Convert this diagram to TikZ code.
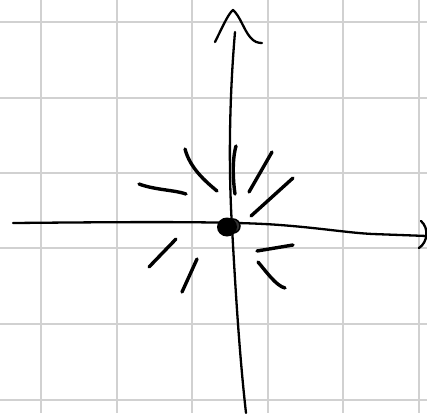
\documentclass[tikz,border=0pt]{standalone}
\begin{document}
\begin{tikzpicture}[x=1pt,y=-1pt,
  gridline/.style={draw=black!18,line width=1.8pt},
  axis/.style={draw=black,line width=2.3pt,line cap=round,line join=round},
  ray/.style={draw=black,line width=3.4pt,line cap=round}]
\useasboundingbox (0,0) rectangle (427,413);
\fill[white] (0,0) rectangle (427,413);
% grid
\foreach \x in {41,117,192,268,343,419} \draw[gridline] (\x,0) -- (\x,413);
\foreach \y in {22,98,173,248,324,400} \draw[gridline] (0,\y) -- (427,\y);
% horizontal axis
\draw[axis] (13,223) .. controls (120,222) and (230,221) .. (280,225)
  .. controls (320,228) and (350,233) .. (373,234) -- (427,236);
\draw[axis] (421,221) .. controls (429,228) and (428,242) .. (419,248);
% vertical axis
\draw[axis] (235,32) .. controls (230,90) and (228,160) .. (232,227)
  .. controls (236,300) and (240,360) .. (246,413);
\draw[axis] (215,42) .. controls (222,28) and (228,14) .. (233,10)
  .. controls (240,16) and (244,30) .. (250,37) .. controls (254,42) and (258,43) .. (262,43);
% rays
\draw[ray] (185,149) .. controls (190,168) and (205,181) .. (217,191);
\draw[ray] (236,146) .. controls (232,160) and (233,180) .. (235,194);
\draw[ray] (272,152) -- (249,192);
\draw[ray] (293,178) -- (251,216);
\draw[ray] (139,184) .. controls (155,190) and (175,190) .. (186,194);
\draw[ray] (176,239) -- (149,267);
\draw[ray] (197,259) -- (182,292);
\draw[ray] (293,245) -- (257,251);
\draw[ray] (258,262) .. controls (265,270) and (276,286) .. (285,288);
% origin dot
\draw[black,fill=black!80,line width=1.5pt] (233,226) circle [radius=7pt];
\fill[black] (227,227) ellipse [x radius=10pt,y radius=9.5pt];
\end{tikzpicture}
\end{document}
